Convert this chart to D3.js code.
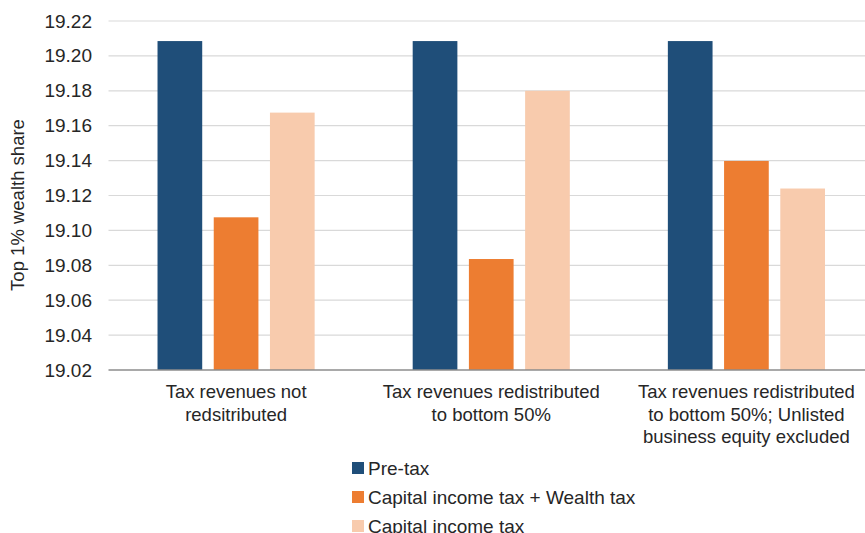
<!DOCTYPE html>
<html>
<head>
<meta charset="utf-8">
<script src="https://cdn.jsdelivr.net/npm/d3@7"></script>
<style>
  body { margin: 0; background: #fff; }
  svg { display: block; font-family: "Liberation Sans", Arial, sans-serif; }
</style>
</head>
<body>
<svg id="chart"></svg>
<script>
// categories along the x axis (each label split into lines)
var categories = [
  ["Tax revenues not", "redsitributed"],
  ["Tax revenues redistributed", "to bottom 50%"],
  ["Tax revenues redistributed", "to bottom 50%; Unlisted", "business equity excluded"]
];
var seriesNames = ["Pre-tax", "Capital income tax + Wealth tax", "Capital income tax"];
var seriesColors = ["#1F4E79", "#ED7D31", "#F8CBAD"];

// top 1% wealth share, one array per series
var preTax = [19.2085, 19.2085, 19.2085];
var capIncomeWealth = [19.1075, 19.0836, 19.1398];
var capIncome = [19.1675, 19.1800, 19.1240];

var yTicks = [19.02, 19.04, 19.06, 19.08, 19.10, 19.12, 19.14, 19.16, 19.18, 19.20, 19.22];

var svgWidth = 865, svgHeight = 533;
var margin = { top: 21, right: -9, bottom: 163, left: 108.5 };

var svg = d3.select("#chart")
  .attr("width", svgWidth)
  .attr("height", svgHeight);

var allSeries = [preTax, capIncomeWealth, capIncome];
var catIdx = categories.map((c, i) => i);

var x0 = d3.scaleBand()
  .domain(catIdx)
  .range([margin.left, svgWidth - margin.right])
  .padding(0);

var x1 = d3.scaleBand()
  .domain([0, 1, 2])
  .range([0, x0.bandwidth()])
  .paddingInner(0.205)
  .paddingOuter(0.872);

var y = d3.scaleLinear()
  .domain([19.02, 19.22])
  .range([svgHeight - margin.bottom, margin.top]);

//gridlines
svg.append("g")
  .selectAll("line")
  .data(yTicks.slice(1))
  .join("line")
    .attr("x1", margin.left)
    .attr("x2", svgWidth)
    .attr("y1", d => y(d))
    .attr("y2", d => y(d))
    .attr("stroke", "#D9D9D9")
    .attr("stroke-width", 1.2);

//bars
svg.append("g")
  .selectAll("g")
  .data(catIdx)
  .join("g")
    .attr("transform", d => `translate(${x0(d)},0)`)
  .selectAll("rect")
  .data(c => allSeries.map((s, si) => ({ s: si, v: s[c] })))
  .join("rect")
    .attr("x", d => x1(d.s))
    .attr("width", x1.bandwidth())
    .attr("y", d => y(d.v))
    .attr("height", d => y(19.02) - y(d.v))
    .attr("fill", d => seriesColors[d.s]);

//y axis (labels only)
var yAxis = svg.append("g")
  .attr("transform", `translate(${margin.left},0)`)
  .call(d3.axisLeft(y).tickValues(yTicks).tickFormat(d3.format(".2f")).tickSize(0).tickPadding(16.5));
yAxis.select(".domain").remove();
yAxis.selectAll("text")
  .attr("fill", "#262626")
  .style("font-size", "19px")
  .style("font-family", "'Liberation Sans', Arial, sans-serif");

//x axis line
svg.append("line")
  .attr("x1", margin.left)
  .attr("x2", svgWidth)
  .attr("y1", y(19.02))
  .attr("y2", y(19.02))
  .attr("stroke", "#8C8C8C")
  .attr("stroke-width", 1.5);

//category labels
var xl = svg.append("g")
  .selectAll("text")
  .data(catIdx)
  .join("text")
    .attr("x", d => x0(d) + x0.bandwidth() / 2)
    .attr("y", 398)
    .attr("text-anchor", "middle")
    .attr("fill", "#262626")
    .style("font-size", "18.5px");
xl.selectAll("tspan")
  .data(d => categories[d])
  .join("tspan")
    .attr("x", function() { return d3.select(this.parentNode).attr("x"); })
    .attr("dy", (d, i) => i === 0 ? 0 : 22.5)
    .text(d => d);

//y axis title
svg.append("text")
  .attr("transform", "translate(24,205) rotate(-90)")
  .attr("text-anchor", "middle")
  .attr("fill", "#262626")
  .style("font-size", "18.5px")
  .text("Top 1% wealth share");

//legend
var legend = svg.append("g")
  .selectAll("g")
  .data(seriesNames)
  .join("g")
    .attr("transform", (d, i) => `translate(352,${468 + i * 29})`);
legend.append("rect")
  .attr("x", 0)
  .attr("y", -6)
  .attr("width", 12)
  .attr("height", 12)
  .attr("fill", (d, i) => seriesColors[i]);
legend.append("text")
  .attr("x", 16)
  .attr("y", 7)
  .attr("fill", "#262626")
  .style("font-size", "19px")
  .text(d => d);
</script>
</body>
</html>
